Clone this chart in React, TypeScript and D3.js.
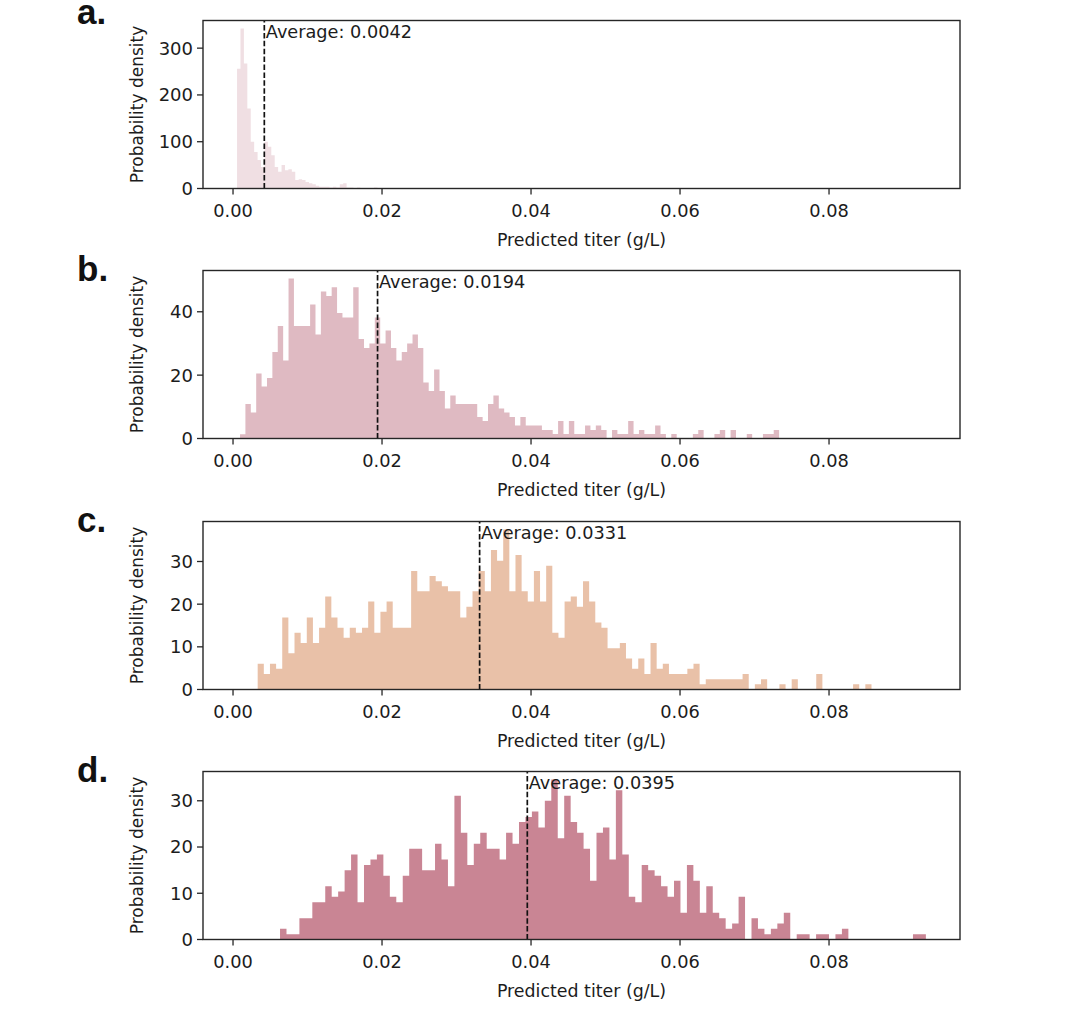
import React from "react";
import * as d3 from "d3";

// ---------- data ----------
const panelLetters = ["a.", "b.", "c.", "d."];
const averages = [0.0042, 0.0194, 0.0331, 0.0395];
const averageLabels = ["Average: 0.0042", "Average: 0.0194", "Average: 0.0331", "Average: 0.0395"];
const binStart = [0.00054, 0.00094, 0.00331, 0.00631];
const binEnd = [0.0465, 0.0733, 0.0857, 0.093];
const xTicks = [0.0, 0.02, 0.04, 0.06, 0.08];
const yTicksA = [0, 100, 200, 300];
const yTicksB = [0, 20, 40];
const yTicksC = [0, 10, 20, 30];
const yTicksD = [0, 10, 20, 30];
const xLabel = "Predicted titer (g/L)";
const yLabel = "Probability density";
const colors = ["#f0dfe3", "#dfbac2", "#e9c1a8", "#c98594"];

const densityA = [
  256, 342, 267, 171, 100, 78, 61, 46, 100, 89,
  71, 46, 36, 50, 39, 41, 36, 18, 20, 18,
  14, 11, 9, 6, 4, 4, 4, 2, 4, 2,
  9, 11, 2, 2, 0, 2, 0, 0, 0, 0,
  2, 0, 0, 0, 0, 0, 0, 0, 0, 0,
  0, 0, 0, 0, 0, 0, 0, 0, 0, 0,
  0, 0, 0, 0, 0, 0, 0, 0, 0, 0,
  0, 0, 0, 0, 0, 0, 0, 0, 0, 0,
  0, 0, 0, 0, 0, 0, 0, 0, 0, 0,
  0, 0, 0, 0, 0, 0, 0, 0, 0, 0,
];

const densityB = [
  1.36, 10.9, 8.2, 20.5, 16.4, 19.1, 27.3, 35.5, 24.6, 50.5,
  35.5, 35.5, 35.5, 42.3, 32.8, 46.4, 45.0, 47.7, 39.6, 38.2,
  38.2, 47.7, 31.4, 28.6, 30.0, 38.2, 30.0, 34.1, 28.6, 24.6,
  27.3, 30.0, 32.8, 28.6, 17.7, 15.0, 21.8, 15.0, 9.5, 13.6,
  10.9, 10.9, 10.9, 10.9, 6.8, 5.5, 10.9, 13.6, 9.5, 8.2,
  6.8, 4.1, 6.8, 4.1, 4.1, 4.1, 2.7, 2.7, 1.4, 5.5,
  1.4, 5.5, 1.4, 1.4, 4.1, 2.7, 4.1, 2.7, 0, 2.7,
  1.4, 1.4, 5.5, 1.4, 2.7, 1.4, 1.4, 4.1, 1.4, 0,
  1.4, 0, 0, 0, 1.4, 2.7, 0, 0, 1.4, 2.7,
  0, 2.7, 0, 0, 1.4, 0, 0, 1.4, 1.4, 2.7,
];

const densityC = [
  6.05, 3.63, 6.05, 4.84, 16.9, 8.47, 13.3, 10.9, 16.9, 10.9,
  14.5, 21.8, 16.9, 14.5, 12.1, 14.5, 13.3, 14.5, 20.6, 13.3,
  18.2, 20.6, 14.5, 14.5, 14.5, 27.8, 23.0, 23.0, 26.6, 25.4,
  24.2, 23.0, 23.0, 16.9, 19.4, 23.0, 27.8, 23.0, 32.7, 30.2,
  37.5, 23.0, 31.5, 23.0, 20.6, 27.8, 20.6, 29.0, 13.3, 12.1,
  20.6, 21.8, 19.4, 25.4, 20.6, 15.7, 14.5, 9.68, 9.68, 10.9,
  7.26, 4.84, 7.26, 3.63, 10.9, 4.84, 6.05, 3.63, 3.63, 3.63,
  4.84, 6.05, 1.21, 2.42, 2.42, 2.42, 2.42, 2.42, 2.42, 3.63,
  0, 1.21, 2.42, 0, 0, 1.21, 0, 2.42, 0, 0,
  0, 3.63, 0, 0, 0, 0, 0, 1.21, 0, 1.21,
];

const densityD = [
  2.31, 1.15, 1.15, 4.61, 4.61, 8.07, 8.07, 11.5, 9.22, 10.4,
  15.0, 18.4, 8.07, 16.1, 17.3, 18.4, 13.8, 9.22, 8.07, 13.8,
  19.6, 19.6, 15.0, 15.0, 20.7, 17.3, 11.5, 31.1, 23.1, 16.1,
  20.7, 23.1, 19.6, 19.6, 17.3, 23.1, 20.7, 25.4, 26.5, 27.7,
  24.2, 30.0, 34.6, 21.9, 31.1, 25.4, 23.1, 19.6, 12.7, 23.1,
  24.2, 17.3, 32.3, 18.4, 9.22, 8.07, 16.1, 15.0, 13.8, 11.5,
  9.22, 12.7, 5.76, 16.1, 12.7, 5.76, 11.5, 5.76, 4.61, 2.31,
  3.46, 9.22, 0, 4.61, 2.31, 1.15, 2.31, 3.46, 5.76, 0,
  1.15, 1.15, 0, 1.15, 1.15, 0, 1.15, 2.31, 0, 0,
  0, 0, 0, 0, 0, 0, 0, 0, 1.15, 1.15,
];

const densities = [densityA, densityB, densityC, densityD];
const yTicksAll = [yTicksA, yTicksB, yTicksC, yTicksD];

// ---------- layout ----------
const W = 1080;
const H = 1010;
const left = 203;
const right = 960;
const panelTops = [20.5, 270.5, 521.5, 771.5];
const letterBaselines = [24, 281, 532, 782];
const panelH = 168;
const xDomain = [-0.00403, 0.09758];
const FONT = "'DejaVu Sans', Verdana, sans-serif";
const LETTER_FONT = "'Liberation Sans', Arial, Helvetica, sans-serif";
const TEXT = "#1c1c1c";

function Panel({ idx }: { idx: number }) {
  const top = panelTops[idx];
  const bottom = top + panelH;
  const data = densities[idx];
  const n = data.length;
  const lo = binStart[idx];
  const hi = binEnd[idx];
  const bins = d3.range(n).map((i) => ({
    x0: lo + ((hi - lo) * i) / n,
    x1: lo + ((hi - lo) * (i + 1)) / n,
    v: data[i],
  }));
  const x = d3.scaleLinear().domain(xDomain).range([left, right]);
  const yMax = (d3.max(data) as number) * 1.05;
  const y = d3.scaleLinear().domain([0, yMax]).range([bottom, top]);
  const avgX = x(averages[idx]);

  // step outline of the histogram, drawn as one filled path (no seams)
  const pts: [number, number][] = [[x(lo), y(0)]];
  bins.forEach((b) => {
    pts.push([x(b.x0), y(b.v)]);
    pts.push([x(b.x1), y(b.v)]);
  });
  pts.push([x(hi), y(0)]);
  const histPath = (d3.line()(pts) as string) + "Z";

  return (
    <g>
      <path d={histPath} fill={colors[idx]} stroke="none" />
      {/* average line */}
      <line
        x1={avgX}
        x2={avgX}
        y1={bottom}
        y2={top}
        stroke="#111"
        strokeWidth={1.7}
        strokeDasharray="5.5,2.4"
      />
      <text x={avgX + 1.5} y={top + 17.5} fontFamily={FONT} fontSize={17.7} fill={TEXT}>
        {averageLabels[idx]}
      </text>
      {/* frame */}
      <rect x={left} y={top} width={right - left} height={panelH} fill="none" stroke="#262626" strokeWidth={1.4} />
      {/* x ticks */}
      {xTicks.map((t) => (
        <g key={t}>
          <line x1={x(t)} x2={x(t)} y1={bottom} y2={bottom + 6} stroke="#262626" strokeWidth={1.3} />
          <text
            x={x(t)}
            y={bottom + 28.5}
            textAnchor="middle"
            fontFamily={FONT}
            fontSize={17.8}
            fill={TEXT}
          >
            {d3.format(".2f")(t)}
          </text>
        </g>
      ))}
      {/* y ticks */}
      {yTicksAll[idx].map((t) => (
        <g key={t}>
          <line x1={left - 6} x2={left} y1={y(t)} y2={y(t)} stroke="#262626" strokeWidth={1.3} />
          <text
            x={left - 10}
            y={y(t)}
            dy="0.36em"
            textAnchor="end"
            fontFamily={FONT}
            fontSize={18}
            fill={TEXT}
          >
            {t}
          </text>
        </g>
      ))}
      {/* axis labels */}
      <text
        x={(left + right) / 2}
        y={bottom + 57}
        textAnchor="middle"
        fontFamily={FONT}
        fontSize={17.4}
        fill={TEXT}
      >
        {xLabel}
      </text>
      <text
        transform={`translate(143,${(top + bottom) / 2}) rotate(-90)`}
        textAnchor="middle"
        fontFamily={FONT}
        fontSize={17}
        fill={TEXT}
      >
        {yLabel}
      </text>
      {/* panel letter */}
      <text x={77} y={letterBaselines[idx]} fontFamily={LETTER_FONT} fontWeight="bold" fontSize={35} fill="#111">
        {panelLetters[idx]}
      </text>
    </g>
  );
}

export default function App() {
  return (
    <svg
      width={W}
      height={H}
      viewBox={`0 0 ${W} ${H}`}
      style={{ position: "absolute", left: 0, top: 0, background: "#fff", display: "block" }}
    >
      <rect x={0} y={0} width={W} height={H} fill="#fff" />
      {[0, 1, 2, 3].map((i) => (
        <Panel key={i} idx={i} />
      ))}
    </svg>
  );
}
